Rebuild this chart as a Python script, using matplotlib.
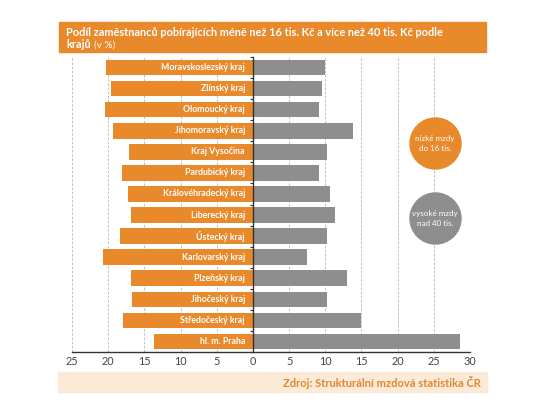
import matplotlib
matplotlib.use("Agg")
import matplotlib.pyplot as plt
from matplotlib.patches import Rectangle

plt.rcParams['font.family'] = ['Lato', 'DejaVu Sans']

# data (v %)
kraje = ['Moravskoslezský kraj', 'Zlínský kraj', 'Olomoucký kraj', 'Jihomoravský kraj',
         'Kraj Vysočina', 'Pardubický kraj', 'Královéhradecký kraj', 'Liberecký kraj',
         'Ústecký kraj', 'Karlovarský kraj', 'Plzeňský kraj', 'Jihočeský kraj',
         'Středočeský kraj', 'hl. m. Praha']
nizke = [20.3, 19.6, 20.4, 19.3, 17.1, 18.1, 17.3, 16.9, 18.3, 20.7, 16.9, 16.7, 18.0, 13.7]
vysoke = [10.0, 9.5, 9.1, 13.8, 10.2, 9.2, 10.6, 11.4, 10.2, 7.5, 13.0, 10.3, 15.0, 28.6]
xticks = [-25, -20, -15, -10, -5, 0, 5, 10, 15, 20, 25, 30]

ORANZ = '#E8892B'
SEDA = '#8E8E8E'

fig = plt.figure(figsize=(5.6, 4.15), dpi=100)
ax = fig.add_axes([0.1286, 0.1518, 0.7107, 0.7108])

y = list(range(len(kraje)))
ax.barh(y, [-v for v in nizke], height=0.74, color=ORANZ, zorder=3)
ax.barh(y, vysoke, height=0.74, color=SEDA, zorder=3)

for i, name in enumerate(kraje):
    ax.text(-1.1, i, name, ha='right', va='center', color='white',
            fontsize=6.3, fontweight='bold', zorder=4)

ax.set_xlim(-25, 30)
ax.set_ylim(len(kraje) - 0.5, -0.5)

for xv in xticks:
    ax.axvline(xv, color='#B5B5B5', lw=0.6, ls=(0, (3, 2)), zorder=1)

ax.set_xticks(xticks)
ax.set_xticklabels([str(abs(v)) for v in xticks])
ax.tick_params(axis='x', length=0, labelsize=7.8, labelcolor='#444444', pad=3)

ax.set_yticks([i - 0.5 for i in range(len(kraje) + 1)])
ax.set_yticklabels([])
ax.tick_params(axis='y', length=2.5, width=0.8, color='#333333', direction='out')
ax.spines['left'].set_position(('data', 0))
ax.spines['left'].set_zorder(5)
ax.spines['left'].set_color('#333333')
ax.spines['left'].set_linewidth(1.0)
for s in ['top', 'right']:
    ax.spines[s].set_visible(False)
ax.spines['bottom'].set_color('#333333')
ax.spines['bottom'].set_linewidth(1.0)

# legenda - kruhy
ax.scatter([0.912], [0.708], s=1350, color=ORANZ, transform=ax.transAxes, zorder=6, clip_on=False)
ax.text(0.912, 0.708, 'nízké mzdy\ndo 16 tis.', transform=ax.transAxes, ha='center', va='center',
        color='white', fontsize=5.8, linespacing=1.5, zorder=7)
ax.scatter([0.912], [0.454], s=1350, color=SEDA, transform=ax.transAxes, zorder=6, clip_on=False)
ax.text(0.912, 0.454, 'vysoké mzdy\nnad 40 tis.', transform=ax.transAxes, ha='center', va='center',
        color='white', fontsize=5.8, linespacing=1.5, zorder=7)

# titulek
fig.patches.append(Rectangle((59 / 560, 1 - 52 / 415), (486 - 59) / 560, 30 / 415,
                             transform=fig.transFigure, color=ORANZ, zorder=0))
fig.text(66 / 560, 1 - 33 / 415,
         'Podíl zaměstnanců pobírajících méně než 16 tis. Kč a více než 40 tis. Kč podle',
         color='white', fontsize=7.9, fontweight='bold', va='center')
t2 = fig.text(66 / 560, 1 - 45 / 415, 'krajů', color='white', fontsize=7.9,
              fontweight='bold', va='center')
fig.canvas.draw()
bb = t2.get_window_extent()
fig.text(bb.x1 / 560 + 3 / 560, 1 - 45 / 415, '(v %)', color='white', fontsize=7.2, va='center')

# zdroj
fig.patches.append(Rectangle((58 / 560, 1 - 392 / 415), (487 - 58) / 560, 20 / 415,
                             transform=fig.transFigure, color='#FCEAD8', zorder=0))
fig.text(481 / 560, 1 - 382 / 415, 'Zdroj: Strukturální mzdová statistika ČR',
         color='#E0872F', fontsize=8, fontweight='bold', ha='right', va='center')

fig.savefig('out.png', dpi=100)
